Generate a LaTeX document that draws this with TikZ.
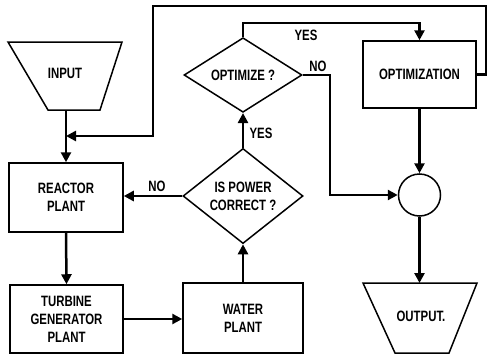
\documentclass[tikz,border=0pt]{standalone}
\usepackage{fontspec}
\setmainfont{Liberation Sans}[FakeStretch=0.76]
\usetikzlibrary{arrows.meta,shapes.geometric}
\begin{document}
\begin{tikzpicture}[x=1pt,y=-1pt,
  font=\bfseries\fontsize{15}{18}\selectfont,
  box/.style={draw, line width=1.5pt, minimum width=114pt, minimum height=69pt, align=center, inner sep=0pt},
  dia/.style={draw, diamond, line width=1.5pt, align=center, inner sep=0pt},
  shp/.style={line width=1.5pt, line join=miter},
  conn/.style={line width=2.5pt, -{Triangle[length=10pt,width=10pt]}},
  lbl/.style={inner sep=0pt}]
\useasboundingbox (0,0) rectangle (487,356);
% trapezoids
\coordinate (inb) at (66,110);
\coordinate (outt) at (419.5,283);
\draw[shp] (8,42) -- (122,42) -- (100,110) -- (48,110) -- cycle;
\draw[shp] (363,283) -- (477,283) -- (449,353) -- (395,353) -- cycle;
% nodes
\node[lbl] (in) at (65,73) {INPUT};
\node[lbl] (out) at (421,316) {OUTPUT.};
\node[box] (rp) at (66,197.5) {REACTOR\\PLANT};
\node[box, minimum width=113pt, minimum height=68pt] (tg) at (66.5,319) {TURBINE\\GENERATOR\\PLANT};
\node[box, minimum width=120pt, minimum height=70pt] (wp) at (243,318) {WATER\\PLANT};
\node[dia, minimum width=120pt, minimum height=72pt] (pc) at (243,196) {IS POWER\\CORRECT ?};
\node[dia, minimum width=118pt, minimum height=66pt] (oz) at (243,75) {OPTIMIZE ?};
\node[box, minimum width=113pt, minimum height=67pt] (om) at (419.5,74.5) {OPTIMIZATION};
\node[draw, circle, line width=1.5pt, minimum size=42pt, inner sep=0pt] (ci) at (419.5,195) {};
% labels
\node[lbl] (l1) at (306,35) {YES};
\node[lbl] (l2) at (318,66) {NO};
\node[lbl] (l3) at (261,133) {YES};
\node[lbl] (l4) at (157,186) {NO};
% helper coordinates
\coordinate (j) at (66,136);
\coordinate (c1) at (486,74.5);
\coordinate (c2) at (486,6);
\coordinate (c3) at (153,6);
\coordinate (c4) at (153,136);
\coordinate (k) at (330,75);
\coordinate (t) at (243,23);
% connectors
\draw[conn] (inb) -- (rp.north);
\draw[conn] (om.east) -- (c1) -- (c2) -- (c3) -- (c4) -- (j);
\draw[conn] (rp.south) -- (tg.north);
\draw[conn] (tg.east) -- (tg.east -| wp.west);
\draw[conn] (wp.north) -- (pc.south);
\draw[conn] (pc.west) -- (pc.west -| rp.east);
\draw[conn] (pc.north) -- (oz.south);
\draw[conn] (oz.north) -- (t) -| (om.north);
\draw[conn] (oz.east) -- (k) |- (ci.west);
\draw[conn] (om.south) -- (ci.north);
\draw[conn] (ci.south) -- (outt);
\end{tikzpicture}
\end{document}
